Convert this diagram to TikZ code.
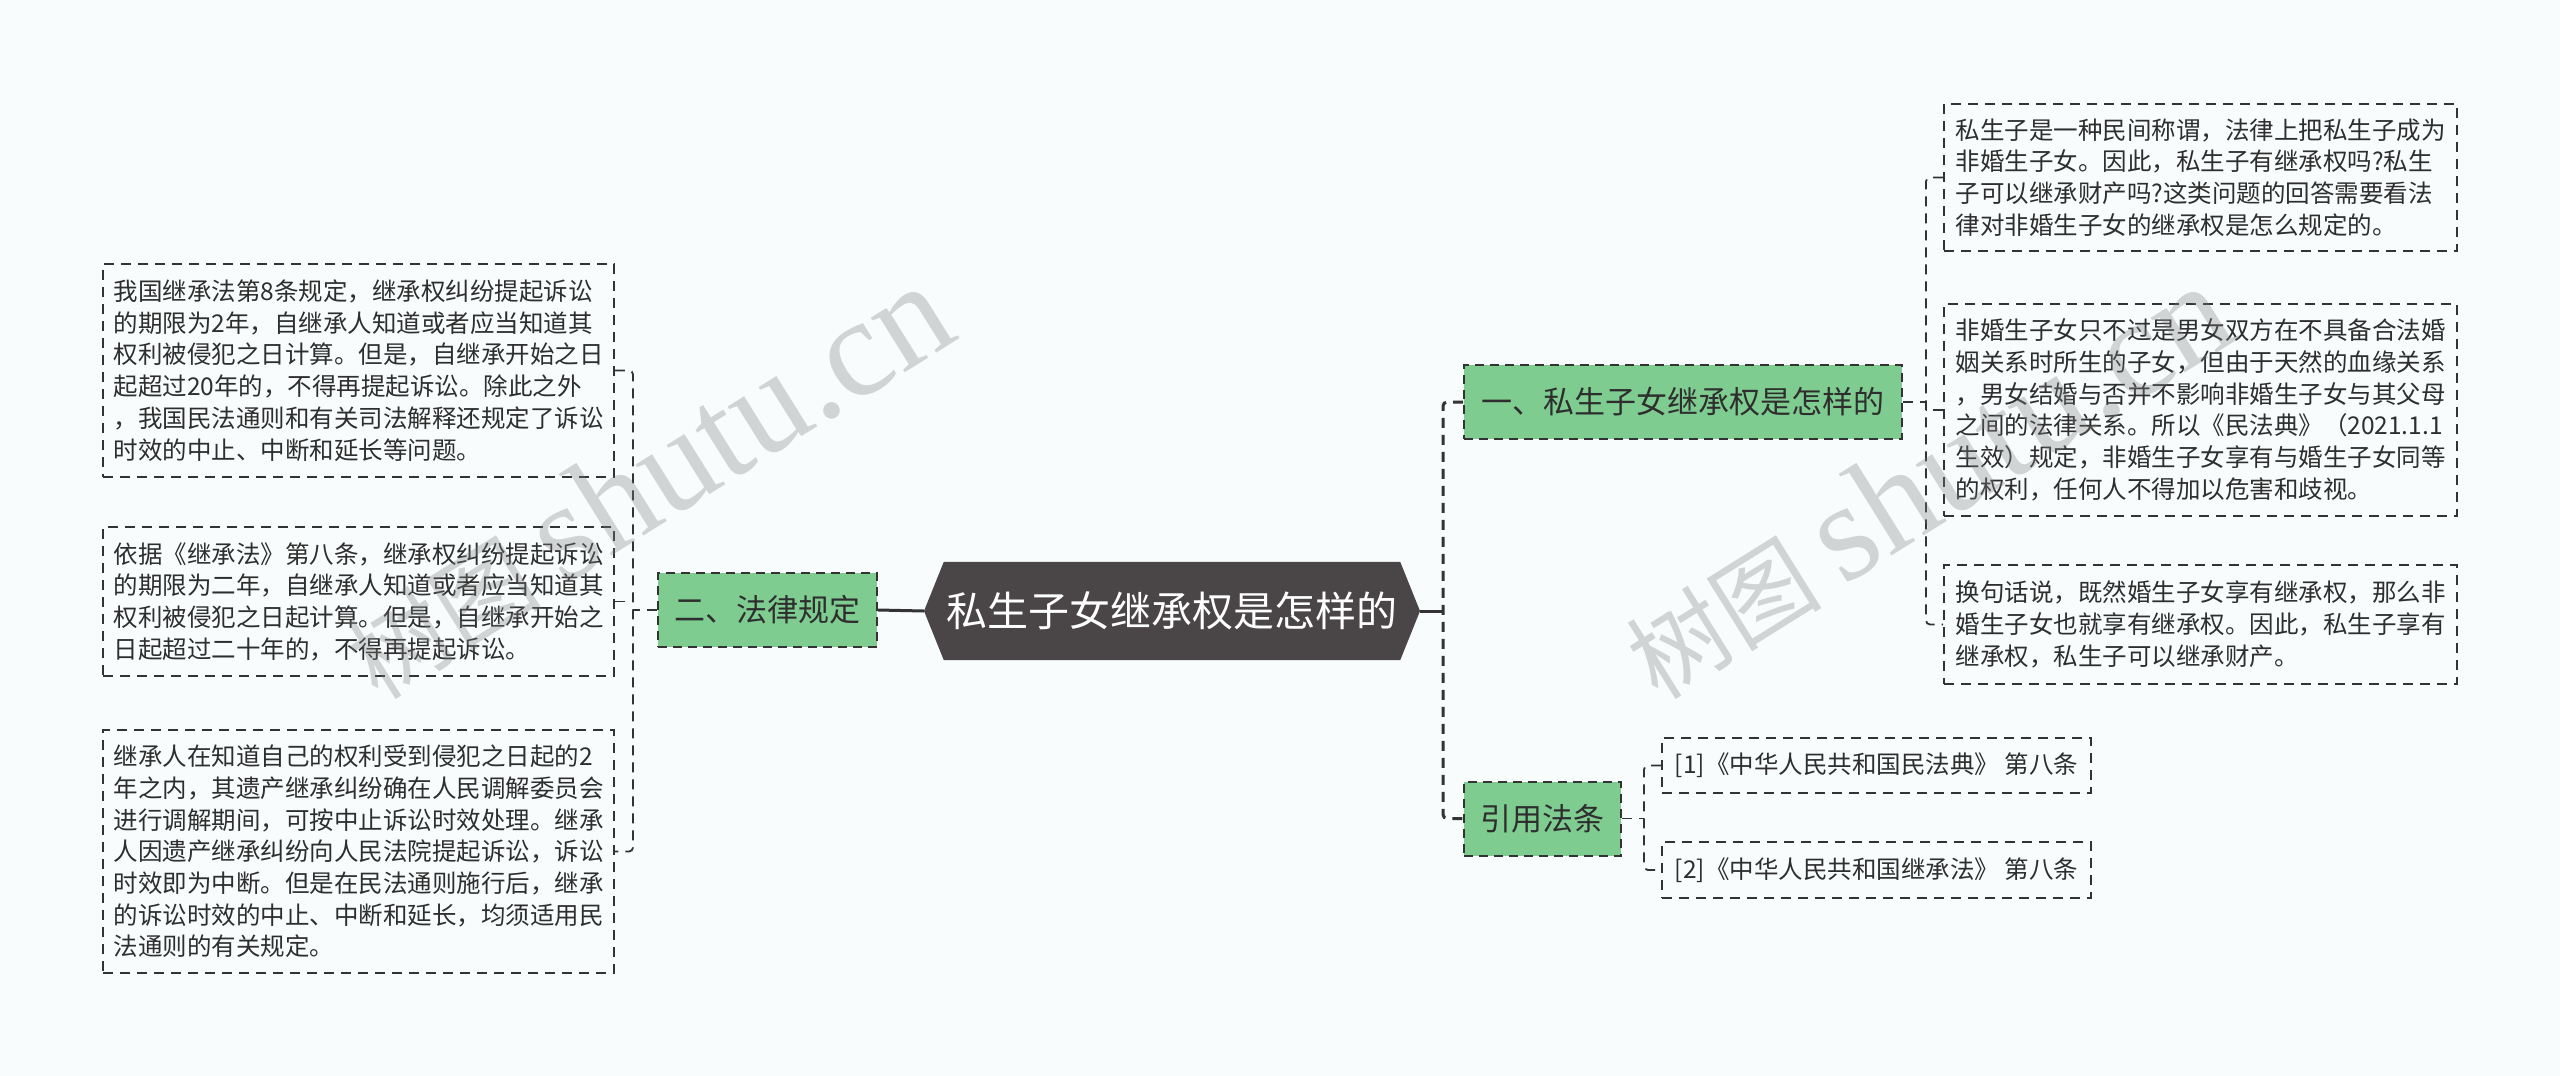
\documentclass[tikz,border=0pt]{standalone}
\usepackage{fontspec}
\setmainfont{Noto Sans CJK SC}
\newfontfamily\wmlatin{Liberation Serif}
\usetikzlibrary{backgrounds}
\definecolor{bgc}{HTML}{F8FCFC}
\definecolor{rootfill}{HTML}{4A4547}
\definecolor{greenfill}{HTML}{7FCC91}
\definecolor{linec}{HTML}{333333}
\definecolor{txtc}{HTML}{2E2E2E}
\tikzset{
  roottext/.style={inner sep=0pt, minimum width=456pt, minimum height=98pt,
    text=white, font=\fontsize{41pt}{48pt}\selectfont},
  branchbox/.style={draw=linec, line width=2pt, dash pattern=on 9pt off 6pt,
    fill=greenfill, inner sep=0pt, minimum height=74pt, text=txtc,
    font=\fontsize{31pt}{36pt}\selectfont},
  leafbox/.style={draw=linec, line width=1.8pt, dash pattern=on 10pt off 7pt,
    fill=bgc, inner sep=0pt, align=left, minimum width=511pt, text=txtc,
    font=\fontsize{24.5pt}{31.7pt}\selectfont},
  refbox/.style={leafbox, minimum width=429pt},
  mainconn/.style={draw=linec, line width=3pt, dash pattern=on 10pt off 7pt},
  leafconn/.style={draw=linec, line width=1.8pt, dash pattern=on 10pt off 7pt, rounded corners=4pt},
  solidconn/.style={draw=linec, line width=3pt},
  wm/.style={inner sep=0pt, text=black!50, text opacity=0.32,
    font=\fontsize{98pt}{98pt}\selectfont}
}
\begin{document}
\begin{tikzpicture}[x=1pt, y=-1pt]
\useasboundingbox (0,0) rectangle (2560,1076);
% nodes
\node[roottext] (root) at (1172,611) {私生子女继承权是怎样的};
\coordinate (rootL) at (924,611);
\coordinate (rootR) at (1420,611);
\begin{pgfonlayer}{background}
  \fill[bgc] (0,0) rectangle (2560,1076);
  \fill[rootfill] (rootL) -- (root.north west) -- (root.north east) -- (rootR)
     -- (root.south east) -- (root.south west) -- cycle;
\end{pgfonlayer}

\node[branchbox, minimum width=219pt] (b2) at (767.5,610) {二、法律规定};
\node[branchbox, minimum width=438pt] (b1) at (1683,402) {一、私生子女继承权是怎样的};
\node[branchbox, minimum width=157pt] (b3) at (1542.5,818.5) {引用法条};

\node[leafbox, minimum height=213pt] (L1) at (358.5,370.5) {我国继承法第8条规定，继承权纠纷提起诉讼\\的期限为2年，自继承人知道或者应当知道其\\权利被侵犯之日计算。但是，自继承开始之日\\起超过20年的，不得再提起诉讼。除此之外\\，我国民法通则和有关司法解释还规定了诉讼\\时效的中止、中断和延长等问题。};
\node[leafbox, minimum height=149pt] (L2) at (358.5,601.5) {依据《继承法》第八条，继承权纠纷提起诉讼\\的期限为二年，自继承人知道或者应当知道其\\权利被侵犯之日起计算。但是，自继承开始之\\日起超过二十年的，不得再提起诉讼。};
\node[leafbox, minimum height=243pt] (L3) at (358.5,851.5) {继承人在知道自己的权利受到侵犯之日起的2\\年之内，其遗产继承纠纷确在人民调解委员会\\进行调解期间，可按中止诉讼时效处理。继承\\人因遗产继承纠纷向人民法院提起诉讼，诉讼\\时效即为中断。但是在民法通则施行后，继承\\的诉讼时效的中止、中断和延长，均须适用民\\法通则的有关规定。};

\node[leafbox, minimum width=513pt, minimum height=147pt] (R1) at (2200.5,177.5) {私生子是一种民间称谓，法律上把私生子成为\\非婚生子女。因此，私生子有继承权吗?私生\\子可以继承财产吗?这类问题的回答需要看法\\律对非婚生子女的继承权是怎么规定的。};
\node[leafbox, minimum width=513pt, minimum height=212pt] (R2) at (2200.5,410) {非婚生子女只不过是男女双方在不具备合法婚\\姻关系时所生的子女，但由于天然的血缘关系\\，男女结婚与否并不影响非婚生子女与其父母\\之间的法律关系。所以《民法典》（2021.1.1\\生效）规定，非婚生子女享有与婚生子女同等\\的权利，任何人不得加以危害和歧视。};
\node[leafbox, minimum width=513pt, minimum height=119pt] (R3) at (2200.5,624.5) {换句话说，既然婚生子女享有继承权，那么非\\婚生子女也就享有继承权。因此，私生子享有\\继承权，私生子可以继承财产。};

\node[refbox, minimum height=55pt] (F1) at (1876.5,765.5) {[1]《中华人民共和国民法典》 第八条};
\node[refbox, minimum height=56pt] (F2) at (1876.5,870) {[2]《中华人民共和国继承法》 第八条};

% spine coordinates
\coordinate (sL) at (633,0);
\coordinate (sT) at (1443,0);
\coordinate (sR) at (1926,0);
\coordinate (sF) at (1644,0);

% connectors
\draw[solidconn] (b2.east) -- (rootL);
\draw[solidconn] (rootR) -- (rootR -| sT);
\draw[mainconn, rounded corners=4pt] (b1.west) -- (b1.west -| sT) -- (b3.west -| sT) -- (b3.west);

\draw[leafconn] (L1.east) -- (L1.east -| sL) -- (L3.east -| sL) -- (L3.east);
\draw[leafconn] (L2.east) -- (L2.east -| sL);
\draw[leafconn] (b2.west) -- (b2.west -| sL);

\draw[leafconn] (R1.west) -- (R1.west -| sR) -- (R3.west -| sR) -- (R3.west);
\draw[leafconn] (R2.west) -- (R2.west -| sR);
\draw[leafconn] (b1.east) -- (b1.east -| sR);

\draw[leafconn] (F1.west) -- (F1.west -| sF) -- (F2.west -| sF) -- (F2.west);
\draw[leafconn] (b3.east) -- (b3.east -| sF);

% watermarks
\node[wm, rotate=32, anchor=base west] (wm1) at (378,702) {树图 {\wmlatin\fontsize{140pt}{140pt}\selectfont shutu.cn}};
\node[wm, rotate=32, anchor=base west] (wm2) at (1658,702) {树图 {\wmlatin\fontsize{140pt}{140pt}\selectfont shutu.cn}};
\end{tikzpicture}
\end{document}
